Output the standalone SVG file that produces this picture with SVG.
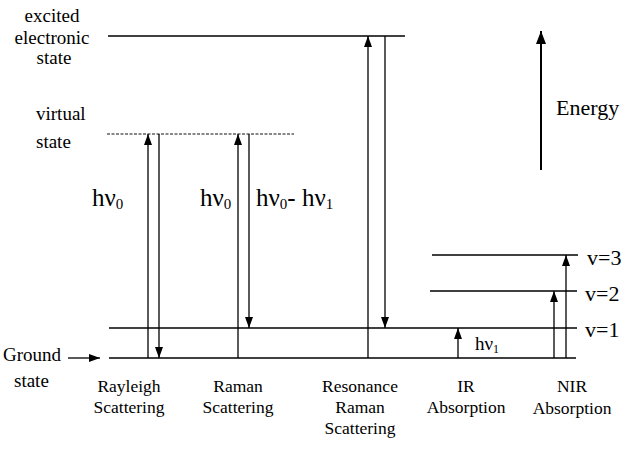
<svg xmlns="http://www.w3.org/2000/svg" width="642" height="449" viewBox="0 0 642 449">
<style>
text{font-family:'Liberation Serif','DejaVu Serif','Times New Roman',serif;fill:#000}
.lbl{font-size:19px}
.cap{font-size:17.5px;text-anchor:middle}
.hv{font-size:25px}
.sub{font-size:15px}
.lv{stroke:#000;stroke-width:1.4;fill:none}
.ar{stroke:#000;stroke-width:1.3;fill:none;marker-end:url(#ah)}
</style>
<defs>
<marker id="ah" viewBox="0 0 11 8" refX="11" refY="4" markerWidth="11" markerHeight="8" orient="auto" markerUnits="userSpaceOnUse">
<path d="M0,0 L11,4 L0,8 z" fill="#000"/>
</marker>
<marker id="ahbig" viewBox="0 0 13 10" refX="13" refY="5" markerWidth="13" markerHeight="10" orient="auto" markerUnits="userSpaceOnUse">
<path d="M0,0 L13,5 L0,10 z" fill="#000"/>
</marker>
</defs>
<g id="levels">
<line id="excited-level" class="lv" x1="108" y1="36" x2="405" y2="36"/>
<line id="virtual-level" x1="107" y1="134" x2="294" y2="134" stroke="#111" stroke-width="1" stroke-dasharray="3,1.5"/>
<line id="v3-level" class="lv" x1="432" y1="255" x2="578" y2="255"/>
<line id="v2-level" class="lv" x1="430" y1="291" x2="577" y2="291"/>
<line id="v1-level" class="lv" x1="109" y1="328" x2="577" y2="328"/>
<line id="ground-level" class="lv" x1="109" y1="358" x2="576" y2="358"/>
</g>
<g id="connectors">
<line class="ar" x1="148" y1="358" x2="148" y2="134"/>
<line class="ar" x1="159" y1="134" x2="159" y2="358"/>
<line class="ar" x1="238" y1="358" x2="238" y2="134"/>
<line class="ar" x1="249" y1="134" x2="249" y2="328"/>
<line class="ar" x1="368" y1="358" x2="368" y2="36"/>
<line class="ar" x1="385" y1="36" x2="385" y2="328"/>
<line class="ar" x1="458" y1="358" x2="458" y2="328"/>
<line class="ar" x1="554" y1="358" x2="554" y2="291"/>
<line class="ar" x1="566" y1="358" x2="566" y2="255"/>
<line class="ar" x1="68" y1="358" x2="100" y2="358" stroke-width="1.2"/>
<line id="energy-arrow" x1="541" y1="170" x2="541" y2="31" stroke="#000" stroke-width="2" marker-end="url(#ahbig)"/>
</g>
<g id="state-labels" font-family="Liberation Serif, DejaVu Serif, serif">
<text class="lbl" x="52" y="22" text-anchor="middle">excited</text>
<text class="lbl" x="52" y="44" text-anchor="middle">electronic</text>
<text class="lbl" x="54" y="64" text-anchor="middle">state</text>
<text class="lbl" x="36" y="120">virtual</text>
<text class="lbl" x="36" y="148">state</text>
<text class="lbl" x="3" y="361">Ground</text>
<text class="lbl" x="14" y="387">state</text>
<text x="556" y="115" font-size="22px">Energy</text>
<text x="587" y="265" font-size="22px">v=3</text>
<text x="585" y="301" font-size="22px">v=2</text>
<text x="585" y="337" font-size="22px">v=1</text>
</g>
<g id="photon-labels" font-family="Liberation Serif, DejaVu Serif, serif">
<text class="hv" x="92" y="206">hν<tspan class="sub" dy="3">0</tspan></text>
<text class="hv" x="200" y="206">hν<tspan class="sub" dy="3">0</tspan></text>
<text class="hv" x="256" y="206">hν<tspan class="sub" dy="3">0</tspan><tspan dy="-3">- hν</tspan><tspan class="sub" dy="3">1</tspan></text>
<text x="475" y="350" font-size="19px">hν<tspan font-size="12px" dy="3">1</tspan></text>
</g>
<g id="process-labels" font-family="Liberation Serif, DejaVu Serif, serif">
<text class="cap" x="129" y="392">Rayleigh</text>
<text class="cap" x="129" y="413">Scattering</text>
<text class="cap" x="238" y="392">Raman</text>
<text class="cap" x="238" y="413">Scattering</text>
<text class="cap" x="360" y="392">Resonance</text>
<text class="cap" x="360" y="413">Raman</text>
<text class="cap" x="360" y="434">Scattering</text>
<text class="cap" x="466" y="392">IR</text>
<text class="cap" x="466" y="413">Absorption</text>
<text class="cap" x="572" y="392">NIR</text>
<text class="cap" x="572" y="414">Absorption</text>
</g>
</svg>
